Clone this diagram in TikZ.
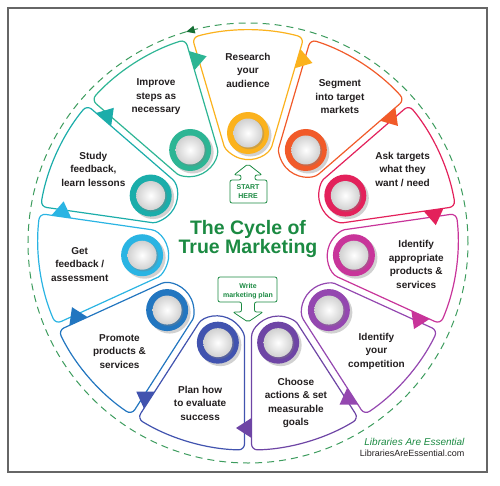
\documentclass[tikz,border=0pt]{standalone}
\usepackage{fontspec}
\setmainfont{Liberation Sans}

\definecolor{research}{HTML}{FBB21D}
\definecolor{segment}{HTML}{F15A29}
\definecolor{ask}{HTML}{E3215B}
\definecolor{products}{HTML}{C8349A}
\definecolor{competition}{HTML}{9447B0}
\definecolor{actions}{HTML}{6E45A5}
\definecolor{evaluate}{HTML}{4153AF}
\definecolor{promote}{HTML}{2276C0}
\definecolor{feedback}{HTML}{2AB4E3}
\definecolor{study}{HTML}{1BADAA}
\definecolor{improve}{HTML}{2DB594}
\definecolor{cyclegreen}{HTML}{1B8A42}
\definecolor{ink}{HTML}{231F20}

\begin{document}
\begin{tikzpicture}[x=1pt,y=1pt,
    wedge/.style={line width=1.2pt, fill=white, rounded corners=6pt},
    ring/.style={circle, minimum size=42pt, inner sep=0pt},
    segtext/.style={align=center, text=ink, font=\fontsize{10}{13.5}\selectfont\bfseries},
    callout/.style={draw=cyclegreen, line width=0.8pt, fill=white, rounded corners=2pt},
    calltext/.style={align=center, text=cyclegreen, font=\fontsize{7}{9}\selectfont\bfseries}]
\useasboundingbox (-248,240) rectangle (252,-245);
\draw[line width=1.3pt, black!60] (-240,232) rectangle (239,-232);
\draw[cyclegreen!85!white, line width=1pt, dash pattern=on 7pt off 5pt] (0,-3) circle[radius=220];
\fill[cyclegreen!80!black, shift={(0,-3)}, rotate=105] (216,-3.5) -- (224,-3.5) -- (220,5) -- cycle;

\foreach \i/\col/\txt in {
    1/research/{Research\\your\\audience},
    2/segment/{Segment\\into target\\markets},
    3/ask/{Ask targets\\what they\\want / need},
    4/products/{Identify\\appropriate\\products \&\\services},
    5/competition/{Identify\\your\\competition},
    6/actions/{Choose\\actions \& set\\measurable\\goals},
    7/evaluate/{Plan how\\to evaluate\\success},
    8/promote/{Promote\\products \&\\services},
    9/feedback/{Get\\feedback /\\assessment},
    10/study/{Study\\feedback,\\learn lessons},
    11/improve/{Improve\\steps as\\necessary}}{
  \pgfmathsetmacro\ang{122.7273-\i*32.7273}
  \begin{scope}[rotate=\ang]
    \draw[wedge, draw=\col] (15.41:210) arc[start angle=15.41, end angle=-15.41, radius=210]
      -- ([shift={(107,0)}]-106.36:26.6) arc[start angle=-106.36, end angle=-253.64, radius=26.6] -- cycle;
  \end{scope}
  \node[segtext] (step\i) at (\ang:170) {\txt};
}

\foreach \col [count=\i] in {research,segment,ask,products,competition,actions,evaluate,promote,feedback,study,improve}{
  \pgfmathsetmacro\ang{122.7273-\i*32.7273}
  \fill[\col, rotate=\ang-16.3636] (178,3.5) -- (198,3.5) -- (188,-12) -- cycle;
  \fill[black!40, opacity=.45] ([shift={(2.5,-2.5)}]\ang:107) circle[radius=21];
  \node[ring, fill=\col] (ring\i) at (\ang:107) {};
  \fill[black!50, opacity=.35] ([shift={(1.2,-1.2)}]\ang:107) circle[radius=15];
  \shade[inner color=white, outer color=black!18] (ring\i.center) circle[radius=14.5];
}

\node[font=\fontsize{19.5}{19}\selectfont\bfseries, text=cyclegreen, align=center] (title) at (0,1) {The Cycle of\\True Marketing};

\draw[callout] (-18,37) -- (-18,60) -- (-7,60) -- (-7,65) -- (-14,65) -- (0,76) -- (14,65) -- (7,65) -- (7,60) -- (19,60) -- (19,37) -- cycle;
\node[calltext] (start) at (0,48) {START\\HERE};

\draw[callout] (-30,-37) -- (29,-37) -- (29,-62) -- (6.5,-62) -- (6.5,-72) -- (15,-72) -- (0,-82) -- (-15,-72) -- (-6.5,-72) -- (-6.5,-62) -- (-30,-62) -- cycle;
\node[calltext] (plan) at (0,-51) {Write\\marketing plan};

\node[anchor=east, text=cyclegreen, font=\fontsize{10}{12}\selectfont\itshape] (logo) at (220,-202) {Libraries Are Essential};
\node[anchor=east, text=ink, font=\fontsize{9}{11}\selectfont] (url) at (220,-213) {LibrariesAreEssential.com};
\end{tikzpicture}
\end{document}
